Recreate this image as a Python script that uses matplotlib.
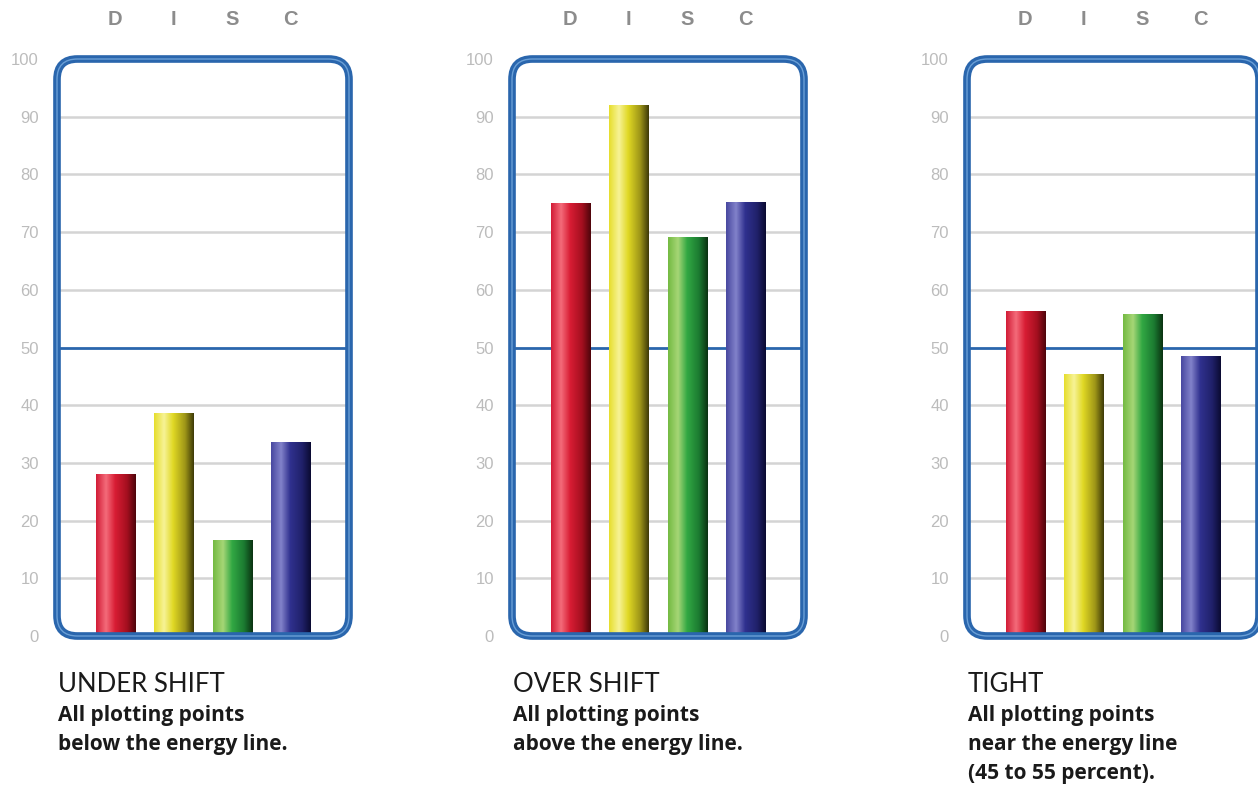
import numpy as np
import matplotlib.pyplot as plt
from matplotlib.patches import FancyBboxPatch
from matplotlib.colors import LinearSegmentedColormap

# DISC profiles
letters = ['D', 'I', 'S', 'C']
under_shift = [28, 38.5, 16.5, 33.5]
over_shift = [75, 92, 69, 75.2]
tight = [56.2, 45.3, 55.7, 48.4]
titles = ['UNDER SHIFT', 'OVER SHIFT', 'TIGHT']
notes = [['All plotting points', 'below the energy line.'],
         ['All plotting points', 'above the energy line.'],
         ['All plotting points', 'near the energy line', '(45 to 55 percent).']]
yticks = [0, 10, 20, 30, 40, 50, 60, 70, 80, 90, 100]

# cylinder shading for each bar colour (left -> right)
shades = [
    ['#d21c36', '#f46b7a', '#d81d34', '#a40f1f', '#4e050b'],
    ['#e6de2c', '#f7f396', '#e0d824', '#9e9618', '#3e3a08'],
    ['#74ba42', '#a6d676', '#32a843', '#1b7a31', '#0b3312'],
    ['#4848a0', '#8282ca', '#30318f', '#20216a', '#0b0b32'],
]
stops = [0.0, 0.25, 0.48, 0.78, 1.0]

W, H = 1258, 785
fig = plt.figure(figsize=(W / 100, H / 100), dpi=100)

frame_blue = '#2a66ad'
lefts = [57, 512, 967]
top_px, bot_px, width_px = 59, 636, 292

for k, vals in enumerate([under_shift, over_shift, tight]):
    ax = fig.add_axes([lefts[k] / W, (H - bot_px) / H, width_px / W, (bot_px - top_px) / H])
    ax.set_facecolor('none')
    for s in ax.spines.values():
        s.set_visible(False)

    # grid and the energy line
    for y in yticks[1:-1]:
        if y == 50:
            ax.axhline(y, color=frame_blue, lw=2.0, zorder=1)
        else:
            ax.axhline(y, color='#d4d4d4', lw=1.8, zorder=1)

    xs = np.arange(1, 5)
    bars = ax.bar(xs, vals, width=0.67, color=[c[2] for c in shades], zorder=2)
    for b, cols in zip(bars, shades):
        cmap = LinearSegmentedColormap.from_list('cyl', list(zip(stops, cols)))
        grad = np.linspace(0, 1, 200).reshape(1, -1)
        ax.imshow(grad, cmap=cmap, aspect='auto', zorder=3,
                  extent=(b.get_x(), b.get_x() + b.get_width(), 0, b.get_height()))

    ax.set_xlim(0, 5)
    ax.set_ylim(0, 100)
    ax.set_xticks([])
    ax.set_yticks(yticks)
    ax.set_yticklabels([str(t) for t in yticks], color='#bcbcbc',
                       fontsize=12, family='Liberation Sans')
    ax.tick_params(axis='y', length=0, pad=13)

    # rounded frame
    r = 0.07
    box = FancyBboxPatch((0, 0), 1, 1, boxstyle='round,pad=0,rounding_size=%g' % r,
                         mutation_aspect=width_px / (bot_px - top_px),
                         transform=ax.transAxes, fill=False, ec=frame_blue,
                         lw=5.5, clip_on=False, zorder=5)
    ax.add_patch(box)
    box2 = FancyBboxPatch((0, 0), 1, 1, boxstyle='round,pad=0,rounding_size=%g' % r,
                          mutation_aspect=width_px / (bot_px - top_px),
                          transform=ax.transAxes, fill=False, ec='#6a9fd6',
                          lw=1.0, clip_on=False, zorder=6)
    ax.add_patch(box2)

    for x, letter in zip(xs, letters):
        ax.text(x, 1.068, letter, transform=ax.get_xaxis_transform(),
                ha='center', va='center', fontsize=14.5, fontweight='bold',
                color='#8c8c8c', family='Liberation Sans')

    fig.text((lefts[k] + 1) / W, 1 - 685 / H, titles[k], ha='left', va='center',
             fontsize=18.5, family='Lato', color='#1a1a1a')
    for i, line in enumerate(notes[k]):
        fig.text((lefts[k] + 1) / W, 1 - (715 + 29.5 * i) / H, line, ha='left',
                 va='center', fontsize=15, family='Open Sans', fontweight='bold',
                 color='#1a1a1a')

fig.savefig('out.png', dpi=100, facecolor='white')
